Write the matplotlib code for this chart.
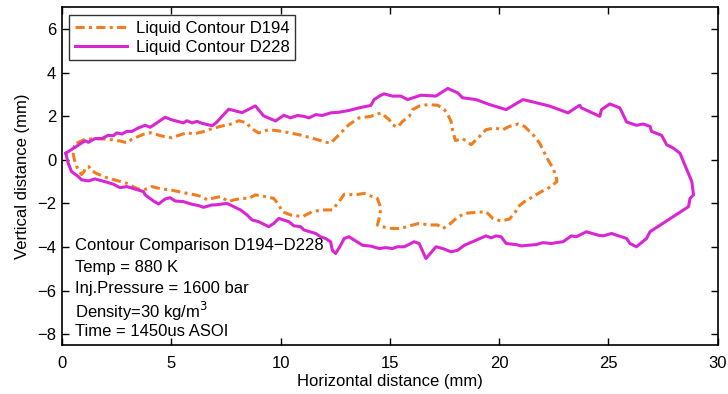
import matplotlib
matplotlib.use("Agg")
import matplotlib.pyplot as plt

plt.rcParams['font.family'] = ['Liberation Sans', 'DejaVu Sans']
plt.rcParams['font.size'] = 12

# D194 liquid contour (mm)
d194_x = [0.67, 1.06, 1.59, 2.12, 2.66, 2.97, 3.20, 3.73, 4.04, 4.57, 5.03, 5.49, 5.79, 6.02,
          6.25, 6.48, 6.87, 7.33, 7.63, 8.09, 8.47, 8.62, 9.00, 9.46, 10.08, 10.84, 11.45,
          12.06, 12.29, 12.68, 13.13, 13.59, 14.13, 14.59, 14.97, 15.12, 15.35, 15.58, 15.89,
          16.04, 16.34, 16.73, 17.19, 17.49, 17.65, 17.80, 17.88, 18.00, 18.33, 18.72, 19.10,
          19.40, 19.79, 20.17, 20.47, 20.86, 21.16, 21.39, 21.55, 21.85, 22.00, 22.23, 22.46,
          22.61, 22.64, 22.46, 22.23, 21.93, 21.55, 21.16, 20.86, 20.75, 20.47, 20.09, 19.71,
          19.40, 18.94, 18.41, 18.03, 17.65, 17.42, 17.19, 16.80, 16.34, 15.89, 15.50, 15.05,
          14.66, 14.43, 14.51, 14.59, 14.43, 14.20, 13.82, 13.44, 12.91, 12.68, 12.37, 11.91,
          11.45, 11.00, 10.46, 10.08, 9.92, 9.69, 9.31, 8.85, 8.55, 8.24, 7.86, 7.63, 7.25,
          6.87, 6.64, 6.41, 6.10, 5.72, 5.33, 4.95, 4.57, 4.11, 3.96, 3.73, 3.50, 3.35, 2.97,
          2.58, 2.05, 1.59, 1.33, 1.24, 1.10, 1.02, 0.90, 0.72, 0.60, 0.52, 0.57, 0.67]
d194_y = [0.76, 0.94, 0.97, 0.94, 0.86, 0.78, 0.94, 1.17, 1.24, 1.09, 1.01, 1.17, 1.24, 1.17,
          1.24, 1.29, 1.43, 1.55, 1.60, 1.79, 1.69, 1.46, 1.23, 1.38, 1.30, 1.15, 0.99,
          0.81, 0.76, 1.15, 1.61, 1.92, 1.99, 2.15, 1.84, 1.61, 1.49, 1.76, 1.99,
          2.30, 2.46, 2.53, 2.50, 2.30, 2.07, 1.76, 1.30, 0.88, 0.97, 0.69, 1.07,
          1.38, 1.46, 1.38, 1.53, 1.64, 1.53, 1.30, 1.15, 0.76, 0.46, 0.00, -0.39,
          -0.77, -1.00, -1.15, -1.31, -1.46, -1.69, -1.92, -2.15, -2.38, -2.72, -2.81, -2.69,
          -2.38, -2.41, -2.46, -2.69, -3.03, -3.15, -2.99, -2.99, -2.92, -3.03, -3.15, -3.15,
          -3.07, -2.99, -2.69, -2.23, -1.77, -1.69, -1.54, -1.61, -1.58, -1.92, -2.30, -2.30,
          -2.38, -2.61, -2.53, -2.38, -2.07, -1.77, -1.69, -1.61, -1.77, -1.77, -1.84, -1.92, -1.69,
          -1.77, -1.84, -1.69, -1.61, -1.54, -1.46, -1.38, -1.34, -1.23, -1.31, -1.38, -1.34, -1.28, -1.08,
          -0.97, -0.82, -0.63, -0.48, -0.32, -0.34, -0.53, -0.68, -0.41, -0.11, 0.24, 0.63, 0.76]

# D228 liquid contour (mm)
d228_x = [0.18, 1.06, 1.21, 1.51, 1.82, 2.12, 2.35, 2.51, 2.74, 2.97, 3.20, 3.50, 3.81, 4.04,
          4.27, 4.72, 5.03, 5.56, 5.72, 5.95, 6.18, 6.41, 6.87, 7.05, 7.40, 7.63, 8.24, 8.85, 9.23,
          9.77, 10.15, 10.46, 10.77, 11.07, 11.30, 11.61, 11.91, 12.29, 12.68, 13.13, 13.59,
          14.13, 14.28, 14.59, 14.74, 15.12, 15.50, 15.81, 16.42, 17.11, 17.65, 18.10, 18.33,
          18.94, 19.56, 20.32, 21.09, 21.55, 22.31, 23.15, 23.68, 23.76, 24.60, 24.68, 25.06,
          25.52, 25.83, 26.28, 26.59, 26.90, 26.97, 27.43, 27.66, 27.97, 28.27, 28.81, 28.89,
          28.73, 28.66, 26.90, 26.74, 26.28, 25.98, 25.83, 25.14, 24.76, 24.53, 23.99, 23.53,
          23.30, 22.92, 22.61, 22.39, 22.00, 21.70, 21.32, 21.01, 20.78, 20.32, 20.09, 19.86,
          19.63, 19.40, 18.94, 18.41, 18.10, 17.80, 17.42, 17.11, 16.65, 16.34, 16.11, 15.66,
          15.35, 15.12, 14.82, 14.51, 14.13, 13.75, 13.13, 12.91, 12.75, 12.52, 12.37, 12.29,
          12.06, 11.83, 11.61, 11.07, 10.92, 10.61, 10.38, 9.92, 9.69, 9.46, 9.00, 8.70, 8.47,
          8.17, 7.86, 7.55, 7.02, 6.87, 6.48, 6.25, 5.95, 5.56, 5.18, 4.95, 4.72, 4.42, 4.19,
          3.81, 3.73, 2.97, 2.66, 2.35, 1.96, 1.51, 1.21, 0.90, 0.75, 0.44, 0.29, 0.18]
d228_y = [0.30, 0.87, 0.80, 0.97, 0.97, 1.12, 1.10, 1.23, 1.18, 1.30, 1.30, 1.46, 1.58, 1.49,
          1.64, 1.95, 1.83, 1.69, 1.79, 1.69, 1.76, 1.67, 1.56, 1.69, 2.07, 2.32, 2.16, 2.47, 2.01,
          1.78, 2.04, 1.92, 2.03, 1.99, 1.92, 2.07, 2.03, 2.15, 2.18, 2.26, 2.38,
          2.49, 2.76, 2.96, 3.02, 2.92, 2.92, 2.76, 2.96, 2.92, 3.27, 3.07, 2.84,
          2.76, 2.53, 2.30, 2.76, 2.65, 2.46, 2.15, 2.50, 2.38, 1.99, 2.30, 2.56,
          2.38, 1.73, 1.58, 1.64, 1.53, 1.30, 1.12, 0.69, 0.53, 0.30, -1.00, -1.61,
          -1.77, -2.15, -3.30, -3.61, -3.99, -3.84, -3.61, -3.38, -3.49, -3.46, -3.30, -3.53,
          -3.49, -3.76, -3.80, -3.84, -3.80, -3.89, -3.92, -3.95, -3.89, -3.84, -3.53, -3.49,
          -3.58, -3.49, -3.69, -3.92, -4.15, -4.22, -4.07, -3.99, -4.53, -3.84, -3.76, -3.99,
          -3.99, -4.07, -4.03, -4.07, -3.96, -3.92, -3.53, -3.61, -3.92, -4.30, -4.15, -3.76,
          -3.61, -3.53, -3.38, -3.22, -3.07, -3.03, -2.84, -2.69, -2.92, -3.07, -2.84, -2.76, -2.53,
          -2.30, -2.15, -2.00, -2.07, -2.07, -2.18, -2.10, -2.04, -1.92, -1.89, -1.74, -1.80, -2.03, -1.89,
          -1.61, -1.46, -1.23, -1.28, -1.12, -1.00, -0.88, -0.97, -0.92, -0.77, -0.54, -0.16, 0.30]

labels = ['Liquid Contour D194', 'Liquid Contour D228']
x_ticks = [0, 5, 10, 15, 20, 25, 30]
y_ticks = [-8, -6, -4, -2, 0, 2, 4, 6]
info_lines = ['Contour Comparison D194\u2212D228', 'Temp = 880 K', 'Inj.Pressure = 1600 bar',
              'Density=30 kg/m$^3$', 'Time = 1450us ASOI']

fig = plt.figure(figsize=(7.28, 3.94), dpi=100)
ax = fig.add_axes([0.085, 0.124, 0.901, 0.858])

orange = '#F27D1E'
magenta = '#D926D3'
ax.plot(d194_x, d194_y, color=orange, lw=2.2, ls=(0, (3, 1.4, 1, 1.4)),
        dash_capstyle='butt', label=labels[0])
ax.plot(d228_x, d228_y, color=magenta, lw=2.2, label=labels[1])

ax.set_xlim(0, 30)
ax.set_ylim(-8.5, 7)
ax.set_xticks(x_ticks)
ax.set_yticks(y_ticks)
ax.tick_params(direction='in', top=True, right=True, length=5, width=1, labelsize=12,
               colors='black', pad=4)
ax.tick_params(axis='x', pad=8)
for s in ax.spines.values():
    s.set_linewidth(1.2)
ax.set_xlabel('Horizontal distance (mm)', fontsize=12, labelpad=2)
ax.set_ylabel('Vertical distance (mm)', fontsize=12, labelpad=5)

ys = [-3.95, -4.95, -5.92, -6.95, -7.88]
for t, yv in zip(info_lines, ys):
    ax.text(0.62, yv, t, fontsize=12, va='center', ha='left')

leg = ax.legend(loc='upper left', bbox_to_anchor=(0.006, 0.985), fontsize=12, frameon=True,
                fancybox=False, edgecolor='black', handlelength=3.1, borderpad=0.35,
                labelspacing=0.2, handletextpad=0.55, borderaxespad=0.2)
leg.get_frame().set_linewidth(1.0)

fig.savefig('out.png', dpi=100)
